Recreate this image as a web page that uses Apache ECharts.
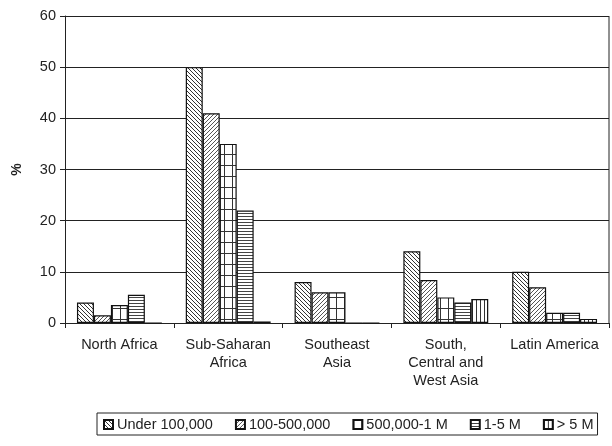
<!DOCTYPE html>
<html>
<head>
<meta charset="utf-8">
<script src="https://cdn.jsdelivr.net/npm/echarts@6/dist/echarts.min.js"></script>
<style>
  html, body { margin: 0; padding: 0; background: #fff; }
  #chart { width: 612px; height: 446px; }
</style>
</head>
<body>
<div id="chart"></div>
<script>
const regions = ['North Africa', 'Sub-Saharan\nAfrica', 'Southeast\nAsia', 'South,\nCentral and\nWest Asia', 'Latin America'];
const seriesNames = ['Under 100,000', '100-500,000', '500,000-1 M', '1-5 M', '> 5 M'];

const under100k = [4, 50, 8, 14, 10];
const from100kTo500k = [1.5, 41, 6, 8.4, 7];
const from500kTo1M = [3.5, 35, 6, 5, 2];
const from1To5M = [5.5, 22, 0, 4, 2];
const over5M = [0, 0.3, 0, 4.7, 0.8];

const yTicks = { min: 0, max: 60, interval: 10 };

// hatch patterns drawn on small canvases
function makePattern(w, h, draw) {
  const c = document.createElement('canvas');
  c.width = w;
  c.height = h;
  const ctx = c.getContext('2d');
  ctx.fillStyle = '#fff';
  ctx.fillRect(0, 0, w, h);
  ctx.strokeStyle = '#333';
  ctx.lineWidth = 1;
  draw(ctx, w, h);
  return { image: c, repeat: 'repeat' };
}

const patterns = [
  // back diagonal "\"
  makePattern(4, 4, (ctx) => {
    ctx.beginPath();
    ctx.moveTo(-1, -1); ctx.lineTo(5, 5);
    ctx.moveTo(-1, 3); ctx.lineTo(1, 5);
    ctx.moveTo(3, -1); ctx.lineTo(5, 1);
    ctx.stroke();
  }),
  // forward diagonal "/"
  makePattern(4, 4, (ctx) => {
    ctx.strokeStyle = '#555';
    ctx.beginPath();
    ctx.moveTo(-1, 5); ctx.lineTo(5, -1);
    ctx.moveTo(-1, 1); ctx.lineTo(1, -1);
    ctx.moveTo(3, 5); ctx.lineTo(5, 3);
    ctx.stroke();
  }),
  // grid
  makePattern(8, 11, (ctx) => {
    ctx.beginPath();
    ctx.moveTo(0.5, 0); ctx.lineTo(0.5, 11);
    ctx.moveTo(0, 0.5); ctx.lineTo(8, 0.5);
    ctx.stroke();
  }),
  // horizontal lines
  makePattern(4, 3, (ctx) => {
    ctx.strokeStyle = '#444';
    ctx.beginPath();
    ctx.moveTo(0, 0.5); ctx.lineTo(4, 0.5);
    ctx.stroke();
  }),
  // vertical lines
  makePattern(4, 4, (ctx) => {
    ctx.beginPath();
    ctx.moveTo(0.5, 0); ctx.lineTo(0.5, 4);
    ctx.stroke();
  })
];

const values = [under100k, from100kTo500k, from500kTo1M, from1To5M, over5M];

const chart = echarts.init(document.getElementById('chart'));
const font = "'Liberation Sans', Arial, sans-serif";

const option = {
  animation: false,
  textStyle: { fontFamily: font },
  grid: { left: 65, right: 3, top: 16, bottom: 123 },
  legend: {
    left: 97,
    top: 413,
    padding: [4, 4, 3, 6],
    borderColor: '#222',
    borderWidth: 1,
    itemWidth: 9,
    itemHeight: 9,
    itemGap: 22,
    icon: 'rect',
    textStyle: { fontSize: 14.5, color: '#222', fontFamily: font, padding: [0, 0, 0, -1] },
    data: seriesNames
  },
  xAxis: {
    type: 'category',
    data: regions,
    axisLine: { lineStyle: { color: '#222', width: 1 } },
    axisTick: { show: true, length: 5, lineStyle: { color: '#222' } },
    axisLabel: { interval: 0, fontSize: 14.5, color: '#222', lineHeight: 18, margin: 13 }
  },
  yAxis: {
    type: 'value',
    min: yTicks.min,
    max: yTicks.max,
    interval: yTicks.interval,
    name: '%',
    nameLocation: 'middle',
    nameRotate: 90,
    nameGap: 41,
    nameTextStyle: { fontSize: 14, fontWeight: 'bold', color: '#222' },
    axisLine: { show: true, lineStyle: { color: '#222', width: 1 } },
    axisTick: { show: true, length: 5, lineStyle: { color: '#222' } },
    axisLabel: { fontSize: 14.5, color: '#222', margin: 9 },
    splitLine: { show: true, lineStyle: { color: '#222', width: 1 } }
  },
  series: seriesNames.map((name, i) => ({
    name: name,
    type: 'bar',
    data: values[i],
    barGap: '0%',
    barCategoryGap: '22%',
    itemStyle: {
      color: patterns[i],
      borderColor: '#111',
      borderWidth: 1.2
    }
  })),
  // right border of plot area
  graphic: [{
    type: 'line',
    shape: { x1: 609, y1: 16, x2: 609, y2: 323 },
    style: { stroke: '#222', lineWidth: 1 }
  }]
};

chart.setOption(option);
</script>
</body>
</html>
